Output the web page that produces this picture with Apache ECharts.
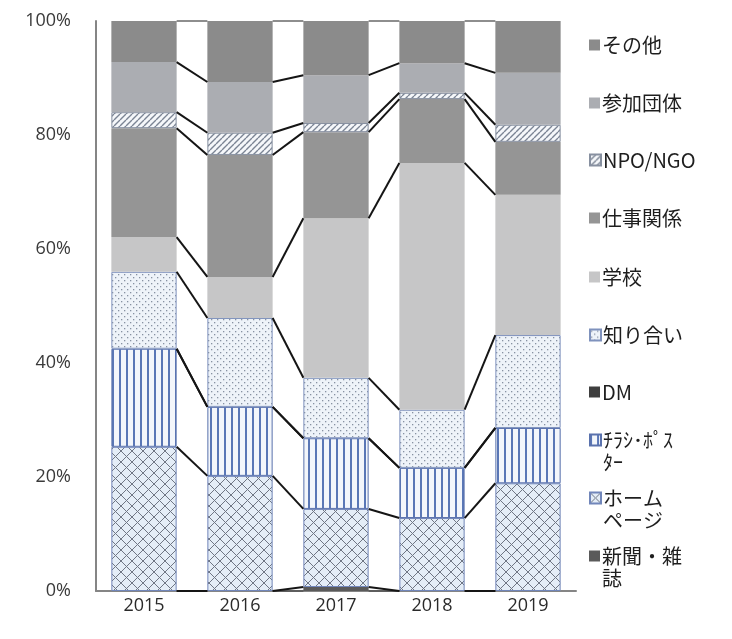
<!DOCTYPE html>
<html>
<head>
<meta charset="utf-8">
<script src="https://cdn.jsdelivr.net/npm/echarts@6/dist/echarts.min.js"></script>
<style>
html,body{margin:0;padding:0;background:#fff;}
#chart{width:732px;height:639px;}
</style>
</head>
<body>
<div id="chart"></div>
<script>
// ---- data (percent of respondents per year) ----
const years = ['2015', '2016', '2017', '2018', '2019'];
const yTicks = [0, 20, 40, 60, 80, 100];
const newspaper = [0, 0, 0.7, 0, 0];          // 新聞・雑誌
const homepage  = [25.3, 20.2, 13.7, 12.8, 18.9]; // ホームページ
const flyer     = [17.2, 12.1, 12.4, 8.8, 9.7];   // チラシ・ポスター
const dm        = [0, 0, 0, 0, 0];            // DM
const acquaint  = [13.5, 15.6, 10.6, 10.2, 16.3]; // 知り合い
const school    = [6.1, 7.2, 28.0, 43.3, 24.6];   // 学校
const work      = [19.1, 21.4, 15.1, 11.2, 9.3];  // 仕事関係
const npo       = [2.8, 3.9, 1.6, 1.1, 3.0];      // NPO/NGO
const group     = [8.8, 8.9, 8.4, 5.2, 9.1];      // 参加団体
const other     = [7.2, 10.7, 9.5, 7.4, 9.1];     // その他

const names = ['新聞・雑誌', 'ホームページ', 'ﾁﾗｼ･ﾎﾟｽﾀｰ', 'DM', '知り合い', '学校', '仕事関係', 'NPO/NGO', '参加団体', 'その他'];
const values = [newspaper, homepage, flyer, dm, acquaint, school, work, npo, group, other];
const legendText = {
  'ﾁﾗｼ･ﾎﾟｽﾀｰ': '\nﾁﾗｼ･ﾎﾟｽ\nﾀｰ',
  'ホームページ': '\nホーム\nページ',
  '新聞・雑誌': '\n新聞・雑\n誌'
};

// ---- patterns ----
function pat(w, h, draw) {
  const c = document.createElement('canvas');
  c.width = w; c.height = h;
  const g = c.getContext('2d');
  draw(g, w, h);
  return { image: c, repeat: 'repeat' };
}
const crossHatch = pat(11, 11, (g, w, h) => {
  g.fillStyle = '#e4edf7'; g.fillRect(0, 0, w, h);
  g.strokeStyle = '#6f7684'; g.lineWidth = 1;
  g.beginPath();
  g.moveTo(0, 0); g.lineTo(w, h);
  g.moveTo(w, 0); g.lineTo(0, h);
  g.stroke();
});
const stripes = pat(7, 4, (g, w, h) => {
  g.fillStyle = '#f3f6fb'; g.fillRect(0, 0, w, h);
  g.fillStyle = '#5a77b6'; g.fillRect(0, 0, 2, h);
});
const dots = pat(6, 6, (g, w, h) => {
  g.fillStyle = '#eef3f9'; g.fillRect(0, 0, w, h);
  g.fillStyle = '#8792a2';
  g.fillRect(1, 1, 1.3, 1.3);
  g.fillRect(4, 4, 1.3, 1.3);
});
const diag = pat(6, 6, (g, w, h) => {
  g.fillStyle = '#f5f7fa'; g.fillRect(0, 0, w, h);
  g.strokeStyle = '#7b8494'; g.lineWidth = 1.4;
  g.beginPath();
  for (let o = -w; o <= w; o += w) { g.moveTo(o, h); g.lineTo(o + w, 0); }
  g.stroke();
});

const styles = [
  { color: '#5a5a5a' },
  { color: crossHatch, borderColor: '#7186ba', borderWidth: 1 },
  { color: stripes, borderColor: '#5a72ad', borderWidth: 1 },
  { color: '#3e3e3e' },
  { color: dots, borderColor: '#7f92bd', borderWidth: 1 },
  { color: '#c6c6c7' },
  { color: '#959595' },
  { color: diag, borderColor: '#8790a0', borderWidth: 1 },
  { color: '#abadb2' },
  { color: '#8b8b8b' }
];

const series = names.map((n, k) => ({
  name: n,
  type: 'bar',
  stack: 'total',
  barWidth: '68%',
  data: values[k],
  itemStyle: styles[k],
  emphasis: { disabled: true }
}));

// series lines connecting segment tops between neighbouring bars
series.push({
  type: 'custom',
  name: 'links',
  silent: true,
  z: 5,
  data: years.slice(0, -1).map((y, i) => [i, 0]),
  encode: { x: 0, y: 1 },
  renderItem: function (params, api) {
    const i = params.dataIndex;
    const half = api.size([1, 0])[0] * 0.34;
    const kids = [];
    let a = 0, b = 0;
    const lv = [[0, 0]];
    for (let k = 0; k < values.length; k++) {
      a += values[k][i]; b += values[k][i + 1];
      lv.push([a, b]);
    }
    lv.forEach(([va, vb], idx) => {
      const p1 = api.coord([i, va]);
      const p2 = api.coord([i + 1, vb]);
      const edge = idx === 0 || idx === lv.length - 1;
      kids.push({
        type: 'line',
        shape: { x1: p1[0] + half, y1: p1[1], x2: p2[0] - half, y2: p2[1] },
        style: { stroke: edge ? '#444' : '#151515', lineWidth: edge ? 1.2 : 2 }
      });
    });
    return { type: 'group', children: kids };
  }
});

const legendTops = {
  'その他': 34, '参加団体': 92, 'NPO/NGO': 149, '仕事関係': 207, '学校': 266,
  '知り合い': 324, 'DM': 381, 'ﾁﾗｼ･ﾎﾟｽﾀｰ': 407, 'ホームページ': 465, '新聞・雑誌': 523
};
const font = '"Noto Sans CJK JP", "Noto Sans", sans-serif';
const legends = names.slice().reverse().map(n => ({
  data: [n],
  left: 589,
  top: legendTops[n],
  orient: 'vertical',
  padding: 0,
  itemGap: 0,
  itemWidth: 11,
  itemHeight: 11,
  icon: 'rect',
  selectedMode: false,
  formatter: nm => legendText[nm] || nm,
  textStyle: { fontSize: 20, lineHeight: 22, color: '#1e1e1e', fontFamily: font, padding: [0, 0, 0, -3] }
}));

const chart = echarts.init(document.getElementById('chart'), null, { renderer: 'canvas' });
chart.setOption({
  animation: false,
  backgroundColor: '#fff',
  grid: { left: 96, right: 156, top: 21, bottom: 48 },
  legend: legends,
  xAxis: {
    type: 'category',
    data: years,
    axisTick: { show: false },
    axisLine: { lineStyle: { color: '#858585', width: 2 } },
    axisLabel: { color: '#2a2a2a', fontSize: 18, fontFamily: '"Open Sans", "Noto Sans", sans-serif', margin: 6 }
  },
  yAxis: {
    type: 'value',
    min: yTicks[0],
    max: yTicks[yTicks.length - 1],
    interval: 20,
    splitLine: { show: false },
    axisTick: { show: false },
    axisLine: { show: true, lineStyle: { color: '#858585', width: 2 } },
    axisLabel: { formatter: '{value}%', color: '#3a3a3a', fontSize: 18, fontFamily: '"Open Sans", "Noto Sans", sans-serif', margin: 25 }
  },
  series: series
});
</script>
</body>
</html>
